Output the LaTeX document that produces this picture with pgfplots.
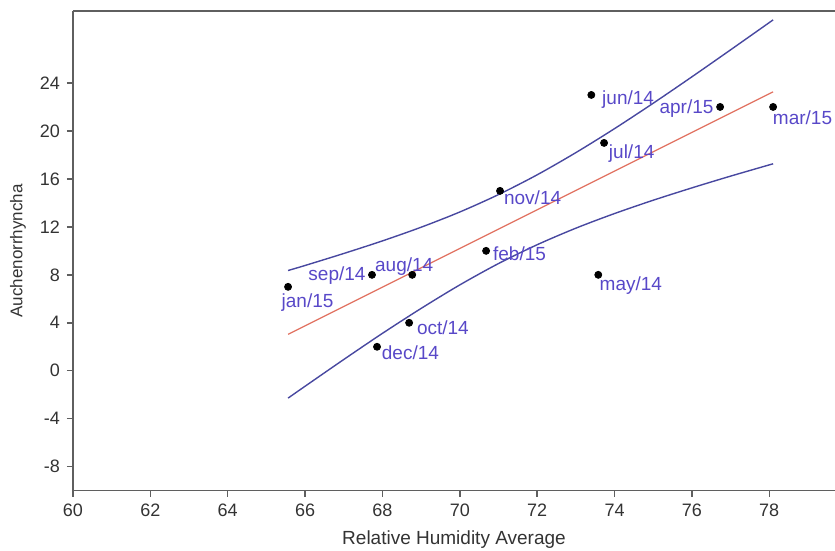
\documentclass[border=0pt]{standalone}
\usepackage{fontspec}
\setmainfont{Liberation Sans}
\usepackage{pgfplots}
\usepackage{pgfplotstable}
\pgfplotsset{compat=1.18}
\definecolor{axgray}{RGB}{95,95,95}
\definecolor{labblue}{RGB}{88,72,200}
\definecolor{bandblue}{RGB}{72,72,160}
\definecolor{fitred}{RGB}{225,112,95}
\pgfplotstableread{
x y label dx dy
65.56 7 jan/15 9.75 -10.5
67.73 8 sep/14 -17.5 -3.0
68.77 8 aug/14 -4.0 1.5
70.68 10 feb/15 16.7 -5.0
71.04 15 nov/14 16.3 -6.8
68.69 4 oct/14 16.9 -6.0
67.86 2 dec/14 16.7 -6.2
73.58 8 may/14 16.3 -8.0
73.40 23 jun/14 18.4 -5.0
73.73 19 jul/14 13.8 -7.8
76.73 22 apr/15 -16.8 -3.5
78.10 22 mar/15 14.7 -9.0
}\pts
\pgfplotstableread{
x up lo
65.56 8.36 -2.28
66 8.78 -1.29
67 9.78 0.94
68 10.83 3.12
69 11.97 5.20
70 13.24 7.16
71 14.69 8.94
72 16.34 10.51
73 18.19 11.89
74 20.19 13.11
75 22.31 14.22
76 24.51 15.25
77 26.76 16.23
78.10 29.26 17.26
}\band
\begin{document}
\begin{tikzpicture}
\begin{axis}[
  name=ax,
  scale only axis,
  width=381pt, height=239.85pt,
  xmin=60, xmax=79.7, ymin=-10, ymax=30,
  xtick={60,62,...,78}, ytick={-8,-4,...,24},
  axis x line*=bottom, axis y line*=left,
  axis line style={-, draw=axgray, line width=0.8pt},
  tick align=outside,
  major tick length=3pt,
  tick style={draw=axgray, line width=0.7pt},
  ticklabel style={font=\fontsize{9}{10}\selectfont, text=black!80},
  /pgf/number format/assume math mode=true,
  xlabel={Relative Humidity Average},
  ylabel={Auchenorrhyncha},
  xlabel style={at={(axis description cs:0.5,-0.102)}, anchor=center, font=\fontsize{9.5}{11}\selectfont, text=black!80},
  ylabel style={at={(axis description cs:-0.0722,0.5)}, anchor=center, font=\fontsize{8.5}{10}\selectfont, text=black!80},
  clip=false,
]
\addplot[bandblue, line width=0.7pt, smooth] table[x=x, y=up] {\band};
\addplot[bandblue, line width=0.7pt, smooth] table[x=x, y=lo] {\band};
\addplot[fitred, line width=0.6pt] coordinates {(65.56,3.04) (78.10,23.26)};
\addplot[only marks, mark=*, mark size=1.75pt, black,
  point meta=explicit symbolic,
  visualization depends on={\thisrow{dx} \as \ldx},
  visualization depends on={\thisrow{dy} \as \ldy},
  nodes near coords,
  nodes near coords style={anchor=base, xshift=\ldx pt, yshift=\ldy pt, text=labblue, font=\fontsize{9.5}{11}\selectfont, inner sep=0pt},
] table[x=x, y=y, meta=label] {\pts};
\draw[axgray, line width=0.8pt] (rel axis cs:0,1) -- (rel axis cs:1,1);
\end{axis}
\pgfresetboundingbox
\path ([xshift=-36.5pt,yshift=-30.15pt]ax.south west) rectangle ([yshift=5.5pt]ax.north east);
\end{tikzpicture}
\end{document}
